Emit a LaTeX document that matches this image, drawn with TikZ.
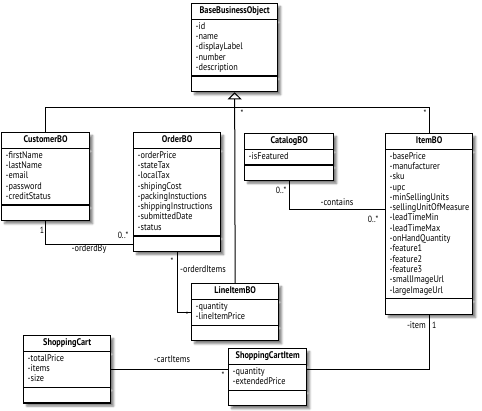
\documentclass[tikz,border=0pt]{standalone}
\usepackage{fontspec}
\setmainfont{PT Sans}[FakeStretch=0.86]
\usetikzlibrary{shapes.multipart,shadows.blur,arrows.meta,calc}
\exhyphenpenalty=10000
\tikzset{
  umlclass/.style={rectangle split, rectangle split parts=3, draw, line width=1.3pt,
    fill=white, anchor=north west, inner xsep=4pt, inner ysep=2pt, align=left,
    font=\fontsize{9.6}{10.3}\selectfont,
    blur shadow={shadow xshift=3pt, shadow yshift=-3pt, shadow blur steps=6, shadow opacity=50}},
  assoc/.style={line width=1pt},
  mult/.style={font=\fontsize{9}{9}\selectfont, inner sep=0pt},
  role/.style={font=\fontsize{9.6}{10}\selectfont, inner sep=0pt}
}
\newcommand{\classtitle}[1]{{\centering\bfseries\strut#1\par}}

\begin{document}
\begin{tikzpicture}[x=1pt,y=-1pt]
\useasboundingbox (0,0) rectangle (482,410);
\node[umlclass, text width=78pt] (base) at (191,3)
  {\classtitle{BaseBusinessObject}
   \nodepart{two}\strut-id\\-name\\-displayLabel\\-number\\-description\strut
   \nodepart{three}\strut};
\node[umlclass, text width=80pt] (cust) at (1,132)
  {\classtitle{CustomerBO}
   \nodepart{two}\strut-firstName\\-lastName\\-email\\-password\\-creditStatus\strut
   \nodepart{three}\strut};
\node[umlclass, text width=79pt] (order) at (133,132)
  {\classtitle{OrderBO}
   \nodepart{two}\strut-orderPrice\\-stateTax\\-localTax\\-shipingCost\\-packingInstuctions\\
   -shippingInstructions\\-submittedDate\\-status\strut
   \nodepart{three}\strut};
\node[umlclass, text width=81pt] (catalog) at (244,133)
  {\classtitle{CatalogBO}
   \nodepart{two}\strut-isFeatured\strut
   \nodepart{three}\strut};
\node[umlclass, text width=79pt] (item) at (385,133)
  {\classtitle{ItemBO}
   \nodepart{two}\strut-basePrice\\-manufacturer\\-sku\\-upc\\-minSellingUnits\\
   -sellingUnitOfMeasure\\-leadTimeMin\\-leadTimeMax\\-onHandQuantity\\-feature1\\
   -feature2\\-feature3\\-smallImageUrl\\-largeImageUrl\strut
   \nodepart{three}\strut};
\node[umlclass, text width=79pt] (line) at (191,283)
  {\classtitle{LineItemBO}
   \nodepart{two}\strut-quantity\\-lineItemPrice\strut
   \nodepart{three}\strut};
\node[umlclass, text width=79pt] (cart) at (23,335)
  {\classtitle{ShoppingCart}
   \nodepart{two}\strut-totalPrice\\-items\\-size\strut
   \nodepart{three}\strut};
\node[umlclass, text width=70pt] (sci) at (228,348)
  {\classtitle{ShoppingCartItem}
   \nodepart{two}\strut-quantity\\-extendedPrice\strut
   \nodepart{three}\strut};

\coordinate (hub) at ($(base.south)+(0,15)$);
\draw[assoc] (cust.north) |- (hub) -| (item.north);
\draw[assoc,-{Triangle[open,length=7pt,width=14pt]}] (line.north) -- (base.south);

\coordinate (ob) at ($(order.two split west)!.5!(order.south west)$);
\draw[assoc] (cust.south) |- (ob);
\coordinate (oi) at ($(line.text split west)!.5!(line.two split west)$);
\draw[assoc] (order.south) |- (oi);
\coordinate (ct) at ($(item.north west)+(0,76)$);
\draw[assoc] (catalog.south) |- (ct);
\coordinate (ci) at ($(cart.text split east)!.5!(cart.two split east)$);
\draw[assoc] (ci) -- (ci -| sci.west);
\draw[assoc] (item.south) |- (ci -| sci.east);

\node[mult] (mgena) at (242,113) {*};
\node[mult] (mgenb) at (425,113) {*};
\node[mult] (mcust) at (42,230) {1};
\node[mult] (morder) at (123,235) {0..*};
\node[role] (rorderdby) at (89,249) {-orderdBy};
\node[mult] (morderb) at (172,261) {*};
\node[role] (rorderditems) at (203,269) {-orderdItems};
\node[mult] (mline) at (187,315) {*};
\node[mult] (mcatalog) at (281,190) {0..*};
\node[role] (rcontains) at (337,202) {-contains};
\node[mult] (mitem) at (373,219) {0..*};
\node[role] (rcartitems) at (172,359) {-cartItems};
\node[mult] (msci) at (223,375) {*};
\node[role, anchor=east] (ritem) at (426,325) {-item};
\node[mult, anchor=west] (mitemb) at (432,325) {1};
\end{tikzpicture}
\end{document}
